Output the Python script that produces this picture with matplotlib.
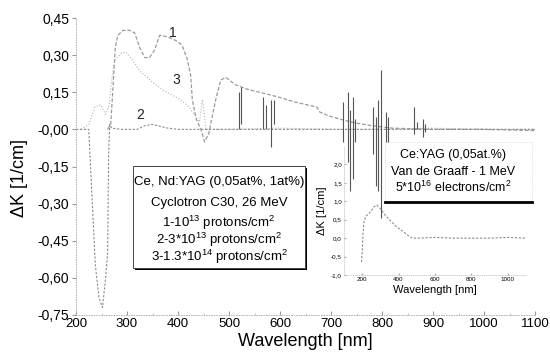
#!/usr/bin/env python3
"""Induzierte Absorption Ce,Nd:YAG nach Protonen-Bestrahlung, Inset: Ce:YAG nach Elektronen."""
import matplotlib
matplotlib.use("Agg")
import matplotlib.pyplot as plt
from matplotlib.patches import Rectangle
from matplotlib.ticker import FuncFormatter, MultipleLocator

plt.rcParams["font.family"] = ["Liberation Sans", "DejaVu Sans"]
plt.rcParams["mathtext.fontset"] = "custom"
plt.rcParams["mathtext.rm"] = "Liberation Sans"
plt.rcParams["mathtext.it"] = "Liberation Sans:italic"

# =============================================================================
# Daten
# =============================================================================

# Kurve 1
wl1 = [262, 268, 272, 277, 282, 292, 305, 315, 325, 335, 344, 354, 364, 377, 390,
       399, 408, 418, 425, 428, 436, 445, 452, 460, 467, 474, 484, 494, 503, 513,
       539, 570, 598, 630, 662, 672, 678, 695, 720, 750, 780, 820, 900, 1000, 1100]
dk1 = [0.0, 0.02, 0.15, 0.33, 0.38, 0.40, 0.40, 0.39, 0.33, 0.29, 0.29, 0.32, 0.38,
       0.375, 0.365, 0.355, 0.34, 0.285, 0.215, 0.12, 0.04, 0.0, -0.05, -0.02, 0.05,
       0.12, 0.20, 0.21, 0.195, 0.18, 0.16, 0.145, 0.13, 0.11, 0.095, 0.09, 0.07,
       0.055, 0.04, 0.025, 0.015, 0.005, 0.0, 0.0, -0.005]

# Kurve 3
wl3 = [210, 225, 237, 248, 258, 265, 270, 276, 290, 299, 311, 325, 340, 350, 370,
       387, 405, 422, 435, 442, 448, 455, 465, 500, 600, 700, 800, 900, 1000, 1100]
dk3 = [0.0, 0.02, 0.09, 0.10, 0.06, 0.10, 0.20, 0.28, 0.31, 0.31, 0.28, 0.235, 0.21,
       0.19, 0.16, 0.14, 0.12, 0.09, 0.05, 0.03, 0.12, 0.0, 0.0, 0.0, 0.005, 0.0,
       0.0, 0.005, 0.0, 0.0]

# Kurve 2
wl2 = [200, 225, 232, 238, 245, 252, 258, 262, 264, 266, 270, 290, 320, 335, 350,
       360, 380, 400, 450, 500, 600, 700, 800, 900, 1000, 1100]
dk2 = [0.0, 0.0, -0.30, -0.55, -0.68, -0.72, -0.60, -0.50, -0.10, 0.02, 0.005, 0.0,
       0.0, 0.015, 0.02, 0.015, 0.005, 0.0, 0.0, 0.0, 0.0, 0.0, 0.0, 0.0, 0.0, 0.0]

# Nd-Linien (schmale Spitzen): Wellenlänge, unteres und oberes Ende
spike_wl = [519, 523, 566, 573, 582, 588, 724, 734, 738, 744, 748, 783, 788, 793,
            798, 808, 812, 862, 868, 880, 885]
spike_lo = [0.0, 0.02, 0.0, 0.0, -0.07, 0.02, -0.05, -0.13, -0.25, -0.20, -0.05,
            -0.10, -0.23, -0.25, -0.36, -0.16, -0.08, -0.02, 0.0, -0.03, -0.01]
spike_hi = [0.15, 0.17, 0.13, 0.10, 0.12, 0.12, 0.11, 0.15, 0.08, 0.13, 0.04, 0.09,
            0.05, 0.12, 0.24, 0.07, 0.05, 0.09, 0.03, 0.04, 0.02]

# Inset: Ce:YAG, Elektronen
inset_wl = [196, 200, 204, 210, 220, 235, 250, 265, 280, 300, 330, 360, 390, 420,
            450, 475, 500, 600, 700, 800, 900, 1000, 1100]
inset_dk = [-0.65, -0.4, 0.1, 0.45, 0.6, 0.65, 0.75, 0.85, 0.9, 0.8, 0.6, 0.45, 0.3,
            0.2, 0.08, 0.0, 0.0, 0.02, 0.0, 0.0, 0.0, 0.02, 0.0]

curve_labels = ["1", "2", "3"]
label_pos = [(389, 0.39), (325, 0.058), (397, 0.20)]

main_box_lines = [
    "Ce, Nd:YAG (0,05at%, 1at%)",
    "Cyclotron C30, 26 MeV",
    r"1-10$^{13}$ protons/cm$^{2}$",
    r"2-3*10$^{13}$ protons/cm$^{2}$",
    r"3-1.3*10$^{14}$ protons/cm$^{2}$",
]
inset_box_lines = [
    "Ce:YAG (0,05at.%)",
    "Van de Graaff - 1 MeV",
    r"5*10$^{16}$ electrons/cm$^{2}$",
]

# =============================================================================
# Plot
# =============================================================================

W, H = 550, 361


def fx(x):
    return x / W


def fy(y):
    return 1 - y / H


fig = plt.figure(figsize=(5.5, 3.61), dpi=100)
ax = fig.add_axes([fx(76), fy(315), 459 / W, 297 / H])

ax.plot(wl1, dk1, color="#9a9a9a", lw=0.9, ls=(0, (3, 1.5)))
ax.plot(wl3, dk3, color="#b3b3b3", lw=0.8, ls=":")
ax.plot(wl2, dk2, color="#8a8a8a", lw=0.8, ls=(0, (2, 1.5)))
ax.vlines(spike_wl, spike_lo, spike_hi, color="#555555", lw=0.8)

for lab, (x, y) in zip(curve_labels, label_pos):
    ax.text(x, y, lab, fontsize=10, ha="center", va="center", color="#222222")

ax.set_xlim(200, 1100)
ax.set_ylim(-0.75, 0.45)
ax.xaxis.set_major_locator(MultipleLocator(100))
ax.xaxis.set_minor_locator(MultipleLocator(50))
ax.yaxis.set_major_locator(MultipleLocator(0.15))
ax.yaxis.set_major_formatter(FuncFormatter(lambda v, _: f"{v:.2f}".replace(".", ",")))
ax.tick_params(axis="x", direction="in", length=3, color="#999999", labelsize=9.5, pad=2)
ax.tick_params(axis="x", which="minor", direction="in", length=1.5, color="#bbbbbb")
ax.tick_params(axis="y", direction="out", length=3, color="#999999", labelsize=10, pad=2)
for side in ("top", "right"):
    ax.spines[side].set_visible(False)
for side in ("left", "bottom"):
    ax.spines[side].set_color("#aaaaaa")
    ax.spines[side].set_linewidth(0.6)
    ax.spines[side].set_linestyle((0, (1, 2)))

ax.set_xlabel("Wavelength [nm]", fontsize=13, labelpad=2)
ax.set_ylabel("ΔK [1/cm]", fontsize=13)
ax.yaxis.set_label_coords(-0.105, 0.46)

# Textbox links (Protonen)
fig.add_artist(Rectangle((fx(135), fy(270)), 172 / W, 102 / H, transform=fig.transFigure,
                         facecolor="black", edgecolor="none", zorder=4))
fig.add_artist(Rectangle((fx(133), fy(268)), 172 / W, 102 / H, transform=fig.transFigure,
                         facecolor="white", edgecolor="#444444", lw=0.7, zorder=5))
for line, y in zip(main_box_lines, [182, 203, 223, 240, 257]):
    fig.text(fx(219), fy(y), line, fontsize=9.5, ha="center", va="center", zorder=6)

# Inset
ins = fig.add_axes([fx(344), fy(275), 182 / W, 129 / H])
ins.set_facecolor("none")
ins.set_zorder(3)
ins.plot(inset_wl, inset_dk, color="#8a8a8a", lw=0.8, ls=(0, (2, 1.5)))
ins.set_xlim(100, 1100)
ins.set_ylim(-1.0, 2.5)
ins.set_xticks([200, 400, 600, 800, 1000])
ins.set_yticks([-1.0, -0.5, 0.0, 0.5, 1.0, 1.5, 2.0])
ins.yaxis.set_major_formatter(FuncFormatter(lambda v, _: f"{v:.1f}".replace(".", ",")))
ins.tick_params(direction="in", length=1.5, color="#aaaaaa", labelsize=4.5, pad=1.5)
for side in ("top", "right"):
    ins.spines[side].set_visible(False)
for side in ("left", "bottom"):
    ins.spines[side].set_color("#bbbbbb")
    ins.spines[side].set_linewidth(0.5)
    ins.spines[side].set_linestyle((0, (1, 2)))
ins.set_xlabel("Wavelength [nm]", fontsize=8, labelpad=2)
ins.set_ylabel("ΔK [1/cm]", fontsize=8, labelpad=3)

# Textbox rechts (Elektronen)
fig.add_artist(Rectangle((fx(385), fy(202)), 147 / W, 60 / H, transform=fig.transFigure,
                         facecolor="white", edgecolor="#cccccc", lw=0.5, ls=":", zorder=5))
fig.add_artist(plt.Line2D([fx(385), fx(532)], [fy(202), fy(202)], transform=fig.transFigure,
                          color="black", lw=2.0, zorder=6))
for line, y in zip(inset_box_lines, [155, 172, 187]):
    fig.text(fx(453), fy(y), line, fontsize=9, ha="center", va="center", zorder=6)

fig.savefig("out.png", dpi=100)
